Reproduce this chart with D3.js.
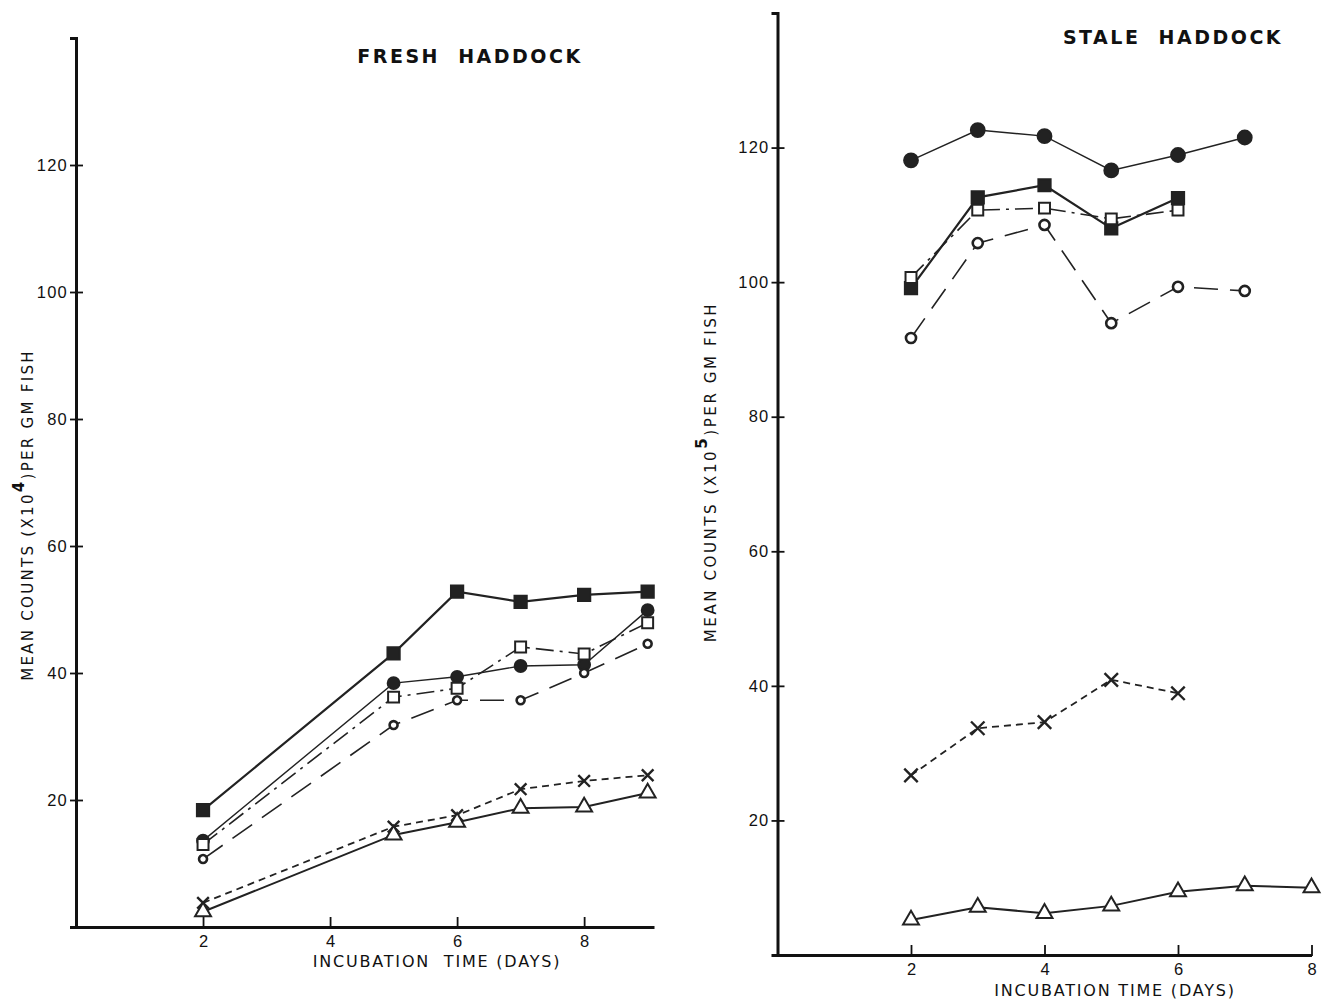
<!DOCTYPE html>
<html>
<head>
<meta charset="utf-8">
<script src="https://cdn.jsdelivr.net/npm/d3@7"></script>
<style>
  body { margin: 0; background: #fff; }
  svg { display: block; font-family: "DejaVu Sans", sans-serif; }
</style>
</head>
<body>
<div class="customChart"></div>
<script>
// fresh haddock (x10^4 per gm), days 2,5,6,7,8,9
const freshDays = [2, 5, 6, 7, 8, 9];
const freshFilledSquare = [18.4, 43.1, 52.8, 51.2, 52.3, 52.8];
const freshFilledCircle = [13.6, 38.4, 39.4, 41.1, 41.3, 49.9];
const freshOpenSquare = [13.0, 36.2, 37.6, 44.1, 43.0, 47.9];
const freshOpenCircle = [10.7, 31.8, 35.7, 35.7, 40.0, 44.6];
const freshCross = [3.8, 15.8, 17.6, 21.7, 23.0, 23.9];
const freshTriangle = [2.4, 14.5, 16.5, 18.7, 18.9, 21.1];

// stale haddock (x10^5 per gm)
const staleDays = [2, 3, 4, 5, 6, 7, 8];
const staleFilledCircle = [118.1, 122.6, 121.7, 116.6, 118.9, 121.5];
const staleFilledSquare = [99.1, 112.6, 114.4, 108.0, 112.5];
const staleOpenSquare = [100.7, 110.7, 111.0, 109.4, 110.7];
const staleOpenCircle = [91.7, 105.8, 108.5, 93.9, 99.3, 98.7];
const staleCross = [26.7, 33.7, 34.6, 40.9, 38.9];
const staleTriangle = [5.2, 7.1, 6.2, 7.3, 9.4, 10.3, 10.0];

const yTicks = [20, 40, 60, 80, 100, 120];
const xTicks = [2, 4, 6, 8];

const width = 1323, height = 1000;
const svg = d3.select('.customChart')
	.append('svg')
	.attr('width', width)
	.attr('height', height);

// line / marker styles per series kind
const styles = {
	filledSquare: {dash: null, lw: 2.2, sym: d3.symbolSquare, size: 150, fill: "#222", stroke: "#222"},
	filledCircle: {dash: null, lw: 1.4, sym: d3.symbolCircle, size: 110, fill: "#222", stroke: "#222"},
	openSquare: {dash: "18,6,3,6", lw: 1.6, sym: d3.symbolSquare, size: 120, fill: "white", stroke: "#222"},
	openCircle: {dash: "24,12", lw: 1.6, sym: d3.symbolCircle, size: 70, fill: "white", stroke: "#222"},
	cross: {dash: "7,5", lw: 1.8, sym: d3.symbolX, size: 90, fill: "none", stroke: "#222"},
	triangle: {dash: null, lw: 2, sym: d3.symbolTriangle, size: 110, fill: "white", stroke: "#222"}
};

function panel(cfg) {
	const g = svg.append("g");
	const x = d3.scaleLinear().domain(cfg.xDomain).range(cfg.xRange);
	const y = d3.scaleLinear().domain([0, 140]).range(cfg.yRange);

	// y axis
	const leftAxis = g.append("g")
		.attr("transform", `translate(${cfg.xRange[0]},0)`)
		.call(d3.axisLeft(y).tickValues(yTicks).tickSizeOuter(0).tickSize(6).tickPadding(2));
	leftAxis.select(".domain").attr("stroke", "#111").attr("stroke-width", 3);
	leftAxis.selectAll(".tick line").attr("x1", 7).attr("stroke-width", 1.8).attr("stroke", "#111");
	leftAxis.selectAll(".tick text").attr("font-size", 16.5).attr("fill", "#111").attr("letter-spacing", 1.2);

	// x axis
	const bottomAxis = g.append("g")
		.attr("transform", `translate(0,${cfg.yRange[0]})`)
		.call(d3.axisBottom(x).tickValues(xTicks).tickSizeOuter(0).tickSize(0).tickPadding(8));
	bottomAxis.select(".domain").attr("stroke", "#111").attr("stroke-width", 3);
	bottomAxis.selectAll(".tick line").attr("y1", -10).attr("y2", 1).attr("stroke-width", 1.8).attr("stroke", "#111");
	bottomAxis.selectAll(".tick text").attr("font-size", 16.5).attr("fill", "#111");

	// series
	cfg.series.forEach(s => {
		const st = styles[s.kind];
		const pts = s.values.map((v, i) => [cfg.days[i], v]);
		const line = d3.line().x(d => x(d[0])).y(d => y(d[1]));
		g.append("path")
			.datum(pts)
			.attr("fill", "none")
			.attr("stroke", "#222")
			.attr("stroke-width", st.lw)
			.attr("stroke-dasharray", st.dash)
			.attr("d", line);
		g.append("g")
			.selectAll("path")
			.data(pts)
			.join("path")
			.attr("transform", d => `translate(${x(d[0])},${y(d[1])})`)
			.attr("d", d3.symbol().type(st.sym).size(s.size || st.size))
			.attr("fill", st.fill)
			.attr("stroke", st.stroke)
			.attr("stroke-width", s.kind == "cross" ? 2.4 : (s.kind == "openCircle" ? 2.6 : 2));
	});

	// titles and axis labels
	g.append("text")
		.attr("x", cfg.title[0]).attr("y", cfg.title[1])
		.attr("text-anchor", "middle")
		.attr("font-size", 19).attr("font-weight", "bold")
		.attr("letter-spacing", 2.5)
		.attr("fill", "#111")
		.attr("xml:space", "preserve")
		.text(cfg.titleText);

	g.append("text")
		.attr("x", cfg.xLabel[0]).attr("y", cfg.xLabel[1])
		.attr("text-anchor", "middle")
		.attr("font-size", 16).attr("letter-spacing", 1.8)
		.attr("fill", "#111")
		.attr("xml:space", "preserve")
		.text(cfg.xLabelText);

	const yl = g.append("text")
		.attr("transform", `translate(${cfg.yLabel[0]},${cfg.yLabel[1]}) rotate(-90)`)
		.attr("text-anchor", "middle")
		.attr("font-size", 15).attr("letter-spacing", cfg.yls)
		.attr("fill", "#111");
	yl.append("tspan").text("MEAN COUNTS (X10");
	yl.append("tspan").attr("dy", -9).attr("font-size", 15).attr("font-weight", "bold").text(cfg.exp);
	yl.append("tspan").attr("dy", 9).text(")PER GM FISH");
}

panel({
	xDomain: [0, 9.1], xRange: [76, 654], yRange: [927, 38],
	days: freshDays,
	series: [
		{kind: "filledSquare", values: freshFilledSquare},
		{kind: "filledCircle", values: freshFilledCircle},
		{kind: "openSquare", values: freshOpenSquare},
		{kind: "openCircle", values: freshOpenCircle, size: 50},
		{kind: "cross", values: freshCross},
		{kind: "triangle", values: freshTriangle}
	],
	title: [470, 63], titleText: "FRESH  HADDOCK",
	xLabel: [437, 967], xLabelText: "INCUBATION  TIME (DAYS)",
	yLabel: [33, 515], exp: "4", yls: 2.3
});

panel({
	xDomain: [0, 8], xRange: [777.5, 1311.5], yRange: [955, 13],
	days: staleDays,
	series: [
		{kind: "filledCircle", values: staleFilledCircle, size: 150},
		{kind: "filledSquare", values: staleFilledSquare},
		{kind: "openSquare", values: staleOpenSquare},
		{kind: "openCircle", values: staleOpenCircle, size: 80},
		{kind: "cross", values: staleCross, size: 120},
		{kind: "triangle", values: staleTriangle}
	],
	title: [1173, 44], titleText: "STALE  HADDOCK",
	xLabel: [1115, 996], xLabelText: "INCUBATION TIME (DAYS)",
	yLabel: [716, 472], exp: "5", yls: 2.6
});
</script>
</body>
</html>
